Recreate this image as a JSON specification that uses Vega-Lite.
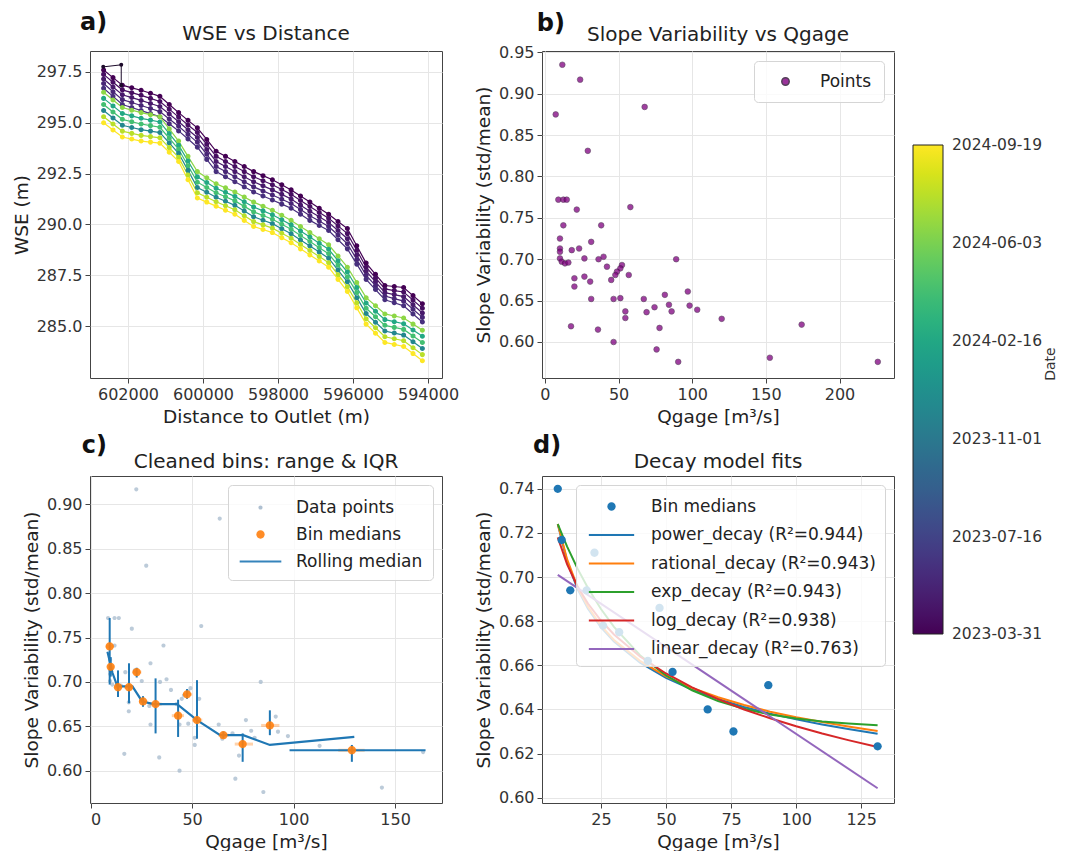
{
"$schema": "https://vega.github.io/schema/vega-lite/v6.json",
"background": "white",
"padding": {"left": 11, "top": 10, "right": 0, "bottom": 0},
"columns": 2,
"spacing": {"row": 98, "column": 100},
"bounds": "flush",
"datasets": {
"wse": [
{"d":602650,"w":297.6,"t":1680220800000},{"d":602400,"w":297.22,"t":1680220800000},{"d":602150,"w":296.85,"t":1680220800000},{"d":601900,"w":296.72,"t":1680220800000},{"d":601650,"w":296.6,"t":1680220800000},{"d":601400,"w":296.45,"t":1680220800000},{"d":601150,"w":296.3,"t":1680220800000},{"d":600900,"w":295.9,"t":1680220800000},{"d":600650,"w":295.5,"t":1680220800000},{"d":600400,"w":295.12,"t":1680220800000},{"d":600150,"w":294.75,"t":1680220800000},{"d":599900,"w":294.18,"t":1680220800000},{"d":599650,"w":293.6,"t":1680220800000},{"d":599400,"w":293.35,"t":1680220800000},{"d":599150,"w":293.1,"t":1680220800000},{"d":598900,"w":292.85,"t":1680220800000},{"d":598650,"w":292.6,"t":1680220800000},{"d":598400,"w":292.4,"t":1680220800000},{"d":598150,"w":292.2,"t":1680220800000},{"d":597900,"w":291.95,"t":1680220800000},{"d":597650,"w":291.7,"t":1680220800000},{"d":597400,"w":291.4,"t":1680220800000},{"d":597150,"w":291.1,"t":1680220800000},{"d":596900,"w":290.8,"t":1680220800000},{"d":596650,"w":290.5,"t":1680220800000},{"d":596400,"w":290.15,"t":1680220800000},{"d":596150,"w":289.8,"t":1680220800000},{"d":595900,"w":288.95,"t":1680220800000},{"d":595650,"w":288.1,"t":1680220800000},{"d":595400,"w":287.55,"t":1680220800000},{"d":595150,"w":287.0,"t":1680220800000},{"d":594900,"w":286.95,"t":1680220800000},{"d":594650,"w":286.9,"t":1680220800000},{"d":594400,"w":286.5,"t":1680220800000},{"d":594150,"w":286.1,"t":1680220800000},
{"d":602650,"w":297.38,"t":1681776000000},{"d":602400,"w":296.99,"t":1681776000000},{"d":602150,"w":296.62,"t":1681776000000},{"d":601900,"w":296.48,"t":1681776000000},{"d":601650,"w":296.35,"t":1681776000000},{"d":601400,"w":296.2,"t":1681776000000},{"d":601150,"w":296.05,"t":1681776000000},{"d":600900,"w":295.67,"t":1681776000000},{"d":600650,"w":295.28,"t":1681776000000},{"d":600400,"w":294.89,"t":1681776000000},{"d":600150,"w":294.52,"t":1681776000000},{"d":599900,"w":293.94,"t":1681776000000},{"d":599650,"w":293.35,"t":1681776000000},{"d":599400,"w":293.1,"t":1681776000000},{"d":599150,"w":292.85,"t":1681776000000},{"d":598900,"w":292.6,"t":1681776000000},{"d":598650,"w":292.35,"t":1681776000000},{"d":598400,"w":292.15,"t":1681776000000},{"d":598150,"w":291.95,"t":1681776000000},{"d":597900,"w":291.72,"t":1681776000000},{"d":597650,"w":291.48,"t":1681776000000},{"d":597400,"w":291.18,"t":1681776000000},{"d":597150,"w":290.88,"t":1681776000000},{"d":596900,"w":290.59,"t":1681776000000},{"d":596650,"w":290.3,"t":1681776000000},{"d":596400,"w":289.93,"t":1681776000000},{"d":596150,"w":289.55,"t":1681776000000},{"d":595900,"w":288.73,"t":1681776000000},{"d":595650,"w":287.9,"t":1681776000000},{"d":595400,"w":287.37,"t":1681776000000},{"d":595150,"w":286.83,"t":1681776000000},{"d":594900,"w":286.75,"t":1681776000000},{"d":594650,"w":286.68,"t":1681776000000},{"d":594400,"w":286.28,"t":1681776000000},{"d":594150,"w":285.88,"t":1681776000000},
{"d":602650,"w":297.15,"t":1683244800000},{"d":602400,"w":296.76,"t":1683244800000},{"d":602150,"w":296.38,"t":1683244800000},{"d":601900,"w":296.24,"t":1683244800000},{"d":601650,"w":296.1,"t":1683244800000},{"d":601400,"w":295.95,"t":1683244800000},{"d":601150,"w":295.8,"t":1683244800000},{"d":600900,"w":295.43,"t":1683244800000},{"d":600650,"w":295.05,"t":1683244800000},{"d":600400,"w":294.66,"t":1683244800000},{"d":600150,"w":294.28,"t":1683244800000},{"d":599900,"w":293.69,"t":1683244800000},{"d":599650,"w":293.1,"t":1683244800000},{"d":599400,"w":292.85,"t":1683244800000},{"d":599150,"w":292.6,"t":1683244800000},{"d":598900,"w":292.35,"t":1683244800000},{"d":598650,"w":292.1,"t":1683244800000},{"d":598400,"w":291.9,"t":1683244800000},{"d":598150,"w":291.7,"t":1683244800000},{"d":597900,"w":291.48,"t":1683244800000},{"d":597650,"w":291.25,"t":1683244800000},{"d":597400,"w":290.95,"t":1683244800000},{"d":597150,"w":290.65,"t":1683244800000},{"d":596900,"w":290.38,"t":1683244800000},{"d":596650,"w":290.1,"t":1683244800000},{"d":596400,"w":289.7,"t":1683244800000},{"d":596150,"w":289.3,"t":1683244800000},{"d":595900,"w":288.5,"t":1683244800000},{"d":595650,"w":287.7,"t":1683244800000},{"d":595400,"w":287.18,"t":1683244800000},{"d":595150,"w":286.65,"t":1683244800000},{"d":594900,"w":286.55,"t":1683244800000},{"d":594650,"w":286.45,"t":1683244800000},{"d":594400,"w":286.05,"t":1683244800000},{"d":594150,"w":285.65,"t":1683244800000},
{"d":602650,"w":296.93,"t":1684972800000},{"d":602400,"w":296.53,"t":1684972800000},{"d":602150,"w":296.14,"t":1684972800000},{"d":601900,"w":296.0,"t":1684972800000},{"d":601650,"w":295.85,"t":1684972800000},{"d":601400,"w":295.7,"t":1684972800000},{"d":601150,"w":295.55,"t":1684972800000},{"d":600900,"w":295.19,"t":1684972800000},{"d":600650,"w":294.83,"t":1684972800000},{"d":600400,"w":294.43,"t":1684972800000},{"d":600150,"w":294.04,"t":1684972800000},{"d":599900,"w":293.45,"t":1684972800000},{"d":599650,"w":292.85,"t":1684972800000},{"d":599400,"w":292.6,"t":1684972800000},{"d":599150,"w":292.35,"t":1684972800000},{"d":598900,"w":292.1,"t":1684972800000},{"d":598650,"w":291.85,"t":1684972800000},{"d":598400,"w":291.65,"t":1684972800000},{"d":598150,"w":291.45,"t":1684972800000},{"d":597900,"w":291.24,"t":1684972800000},{"d":597650,"w":291.03,"t":1684972800000},{"d":597400,"w":290.73,"t":1684972800000},{"d":597150,"w":290.43,"t":1684972800000},{"d":596900,"w":290.17,"t":1684972800000},{"d":596650,"w":289.9,"t":1684972800000},{"d":596400,"w":289.48,"t":1684972800000},{"d":596150,"w":289.05,"t":1684972800000},{"d":595900,"w":288.28,"t":1684972800000},{"d":595650,"w":287.5,"t":1684972800000},{"d":595400,"w":286.99,"t":1684972800000},{"d":595150,"w":286.48,"t":1684972800000},{"d":594900,"w":286.35,"t":1684972800000},{"d":594650,"w":286.23,"t":1684972800000},{"d":594400,"w":285.83,"t":1684972800000},{"d":594150,"w":285.43,"t":1684972800000},
{"d":602650,"w":296.7,"t":1686355200000},{"d":602400,"w":296.3,"t":1686355200000},{"d":602150,"w":295.9,"t":1686355200000},{"d":601900,"w":295.75,"t":1686355200000},{"d":601650,"w":295.6,"t":1686355200000},{"d":601400,"w":295.45,"t":1686355200000},{"d":601150,"w":295.3,"t":1686355200000},{"d":600900,"w":294.95,"t":1686355200000},{"d":600650,"w":294.6,"t":1686355200000},{"d":600400,"w":294.2,"t":1686355200000},{"d":600150,"w":293.8,"t":1686355200000},{"d":599900,"w":293.2,"t":1686355200000},{"d":599650,"w":292.6,"t":1686355200000},{"d":599400,"w":292.35,"t":1686355200000},{"d":599150,"w":292.1,"t":1686355200000},{"d":598900,"w":291.85,"t":1686355200000},{"d":598650,"w":291.6,"t":1686355200000},{"d":598400,"w":291.4,"t":1686355200000},{"d":598150,"w":291.2,"t":1686355200000},{"d":597900,"w":291.0,"t":1686355200000},{"d":597650,"w":290.8,"t":1686355200000},{"d":597400,"w":290.5,"t":1686355200000},{"d":597150,"w":290.2,"t":1686355200000},{"d":596900,"w":289.95,"t":1686355200000},{"d":596650,"w":289.7,"t":1686355200000},{"d":596400,"w":289.25,"t":1686355200000},{"d":596150,"w":288.8,"t":1686355200000},{"d":595900,"w":288.05,"t":1686355200000},{"d":595650,"w":287.3,"t":1686355200000},{"d":595400,"w":286.8,"t":1686355200000},{"d":595150,"w":286.3,"t":1686355200000},{"d":594900,"w":286.15,"t":1686355200000},{"d":594650,"w":286.0,"t":1686355200000},{"d":594400,"w":285.6,"t":1686355200000},{"d":594150,"w":285.2,"t":1686355200000},
{"d":602650,"w":296.5,"t":1718841600000},{"d":602400,"w":296.12,"t":1718841600000},{"d":602150,"w":295.75,"t":1718841600000},{"d":601900,"w":295.62,"t":1718841600000},{"d":601650,"w":295.5,"t":1718841600000},{"d":601400,"w":295.4,"t":1718841600000},{"d":601150,"w":295.3,"t":1718841600000},{"d":600900,"w":294.7,"t":1718841600000},{"d":600650,"w":294.1,"t":1718841600000},{"d":600400,"w":293.35,"t":1718841600000},{"d":600150,"w":292.6,"t":1718841600000},{"d":599900,"w":292.3,"t":1718841600000},{"d":599650,"w":292.0,"t":1718841600000},{"d":599400,"w":291.8,"t":1718841600000},{"d":599150,"w":291.6,"t":1718841600000},{"d":598900,"w":291.35,"t":1718841600000},{"d":598650,"w":291.1,"t":1718841600000},{"d":598400,"w":290.9,"t":1718841600000},{"d":598150,"w":290.7,"t":1718841600000},{"d":597900,"w":290.45,"t":1718841600000},{"d":597650,"w":290.2,"t":1718841600000},{"d":597400,"w":289.9,"t":1718841600000},{"d":597150,"w":289.6,"t":1718841600000},{"d":596900,"w":289.3,"t":1718841600000},{"d":596650,"w":289.0,"t":1718841600000},{"d":596400,"w":288.45,"t":1718841600000},{"d":596150,"w":287.9,"t":1718841600000},{"d":595900,"w":287.15,"t":1718841600000},{"d":595650,"w":286.4,"t":1718841600000},{"d":595400,"w":286.0,"t":1718841600000},{"d":595150,"w":285.6,"t":1718841600000},{"d":594900,"w":285.5,"t":1718841600000},{"d":594650,"w":285.4,"t":1718841600000},{"d":594400,"w":285.1,"t":1718841600000},{"d":594150,"w":284.8,"t":1718841600000},
{"d":602650,"w":296.2,"t":1708041600000},{"d":602400,"w":295.83,"t":1708041600000},{"d":602150,"w":295.46,"t":1708041600000},{"d":601900,"w":295.34,"t":1708041600000},{"d":601650,"w":295.22,"t":1708041600000},{"d":601400,"w":295.13,"t":1708041600000},{"d":601150,"w":295.04,"t":1708041600000},{"d":600900,"w":294.47,"t":1708041600000},{"d":600650,"w":293.9,"t":1708041600000},{"d":600400,"w":293.12,"t":1708041600000},{"d":600150,"w":292.34,"t":1708041600000},{"d":599900,"w":292.06,"t":1708041600000},{"d":599650,"w":291.78,"t":1708041600000},{"d":599400,"w":291.58,"t":1708041600000},{"d":599150,"w":291.38,"t":1708041600000},{"d":598900,"w":291.12,"t":1708041600000},{"d":598650,"w":290.86,"t":1708041600000},{"d":598400,"w":290.67,"t":1708041600000},{"d":598150,"w":290.48,"t":1708041600000},{"d":597900,"w":290.23,"t":1708041600000},{"d":597650,"w":289.98,"t":1708041600000},{"d":597400,"w":289.68,"t":1708041600000},{"d":597150,"w":289.38,"t":1708041600000},{"d":596900,"w":289.08,"t":1708041600000},{"d":596650,"w":288.78,"t":1708041600000},{"d":596400,"w":288.22,"t":1708041600000},{"d":596150,"w":287.66,"t":1708041600000},{"d":595900,"w":286.9,"t":1708041600000},{"d":595650,"w":286.14,"t":1708041600000},{"d":595400,"w":285.73,"t":1708041600000},{"d":595150,"w":285.32,"t":1708041600000},{"d":594900,"w":285.22,"t":1708041600000},{"d":594650,"w":285.12,"t":1708041600000},{"d":594400,"w":284.81,"t":1708041600000},{"d":594150,"w":284.5,"t":1708041600000},
{"d":602650,"w":295.9,"t":1712707200000},{"d":602400,"w":295.53,"t":1712707200000},{"d":602150,"w":295.17,"t":1712707200000},{"d":601900,"w":295.05,"t":1712707200000},{"d":601650,"w":294.94,"t":1712707200000},{"d":601400,"w":294.86,"t":1712707200000},{"d":601150,"w":294.78,"t":1712707200000},{"d":600900,"w":294.24,"t":1712707200000},{"d":600650,"w":293.7,"t":1712707200000},{"d":600400,"w":292.89,"t":1712707200000},{"d":600150,"w":292.08,"t":1712707200000},{"d":599900,"w":291.82,"t":1712707200000},{"d":599650,"w":291.56,"t":1712707200000},{"d":599400,"w":291.36,"t":1712707200000},{"d":599150,"w":291.16,"t":1712707200000},{"d":598900,"w":290.89,"t":1712707200000},{"d":598650,"w":290.62,"t":1712707200000},{"d":598400,"w":290.44,"t":1712707200000},{"d":598150,"w":290.26,"t":1712707200000},{"d":597900,"w":290.01,"t":1712707200000},{"d":597650,"w":289.76,"t":1712707200000},{"d":597400,"w":289.46,"t":1712707200000},{"d":597150,"w":289.16,"t":1712707200000},{"d":596900,"w":288.86,"t":1712707200000},{"d":596650,"w":288.56,"t":1712707200000},{"d":596400,"w":287.99,"t":1712707200000},{"d":596150,"w":287.42,"t":1712707200000},{"d":595900,"w":286.65,"t":1712707200000},{"d":595650,"w":285.88,"t":1712707200000},{"d":595400,"w":285.46,"t":1712707200000},{"d":595150,"w":285.04,"t":1712707200000},{"d":594900,"w":284.94,"t":1712707200000},{"d":594650,"w":284.84,"t":1712707200000},{"d":594400,"w":284.52,"t":1712707200000},{"d":594150,"w":284.2,"t":1712707200000},
{"d":602650,"w":295.6,"t":1701734400000},{"d":602400,"w":295.24,"t":1701734400000},{"d":602150,"w":294.88,"t":1701734400000},{"d":601900,"w":294.77,"t":1701734400000},{"d":601650,"w":294.66,"t":1701734400000},{"d":601400,"w":294.59,"t":1701734400000},{"d":601150,"w":294.52,"t":1701734400000},{"d":600900,"w":294.01,"t":1701734400000},{"d":600650,"w":293.5,"t":1701734400000},{"d":600400,"w":292.66,"t":1701734400000},{"d":600150,"w":291.82,"t":1701734400000},{"d":599900,"w":291.58,"t":1701734400000},{"d":599650,"w":291.34,"t":1701734400000},{"d":599400,"w":291.14,"t":1701734400000},{"d":599150,"w":290.94,"t":1701734400000},{"d":598900,"w":290.66,"t":1701734400000},{"d":598650,"w":290.38,"t":1701734400000},{"d":598400,"w":290.21,"t":1701734400000},{"d":598150,"w":290.04,"t":1701734400000},{"d":597900,"w":289.79,"t":1701734400000},{"d":597650,"w":289.54,"t":1701734400000},{"d":597400,"w":289.24,"t":1701734400000},{"d":597150,"w":288.94,"t":1701734400000},{"d":596900,"w":288.64,"t":1701734400000},{"d":596650,"w":288.34,"t":1701734400000},{"d":596400,"w":287.76,"t":1701734400000},{"d":596150,"w":287.18,"t":1701734400000},{"d":595900,"w":286.4,"t":1701734400000},{"d":595650,"w":285.62,"t":1701734400000},{"d":595400,"w":285.19,"t":1701734400000},{"d":595150,"w":284.76,"t":1701734400000},{"d":594900,"w":284.66,"t":1701734400000},{"d":594650,"w":284.56,"t":1701734400000},{"d":594400,"w":284.23,"t":1701734400000},{"d":594150,"w":283.9,"t":1701734400000},
{"d":602650,"w":295.3,"t":1721865600000},{"d":602400,"w":294.94,"t":1721865600000},{"d":602150,"w":294.59,"t":1721865600000},{"d":601900,"w":294.48,"t":1721865600000},{"d":601650,"w":294.38,"t":1721865600000},{"d":601400,"w":294.32,"t":1721865600000},{"d":601150,"w":294.26,"t":1721865600000},{"d":600900,"w":293.78,"t":1721865600000},{"d":600650,"w":293.3,"t":1721865600000},{"d":600400,"w":292.43,"t":1721865600000},{"d":600150,"w":291.56,"t":1721865600000},{"d":599900,"w":291.34,"t":1721865600000},{"d":599650,"w":291.12,"t":1721865600000},{"d":599400,"w":290.92,"t":1721865600000},{"d":599150,"w":290.72,"t":1721865600000},{"d":598900,"w":290.43,"t":1721865600000},{"d":598650,"w":290.14,"t":1721865600000},{"d":598400,"w":289.98,"t":1721865600000},{"d":598150,"w":289.82,"t":1721865600000},{"d":597900,"w":289.57,"t":1721865600000},{"d":597650,"w":289.32,"t":1721865600000},{"d":597400,"w":289.02,"t":1721865600000},{"d":597150,"w":288.72,"t":1721865600000},{"d":596900,"w":288.42,"t":1721865600000},{"d":596650,"w":288.12,"t":1721865600000},{"d":596400,"w":287.53,"t":1721865600000},{"d":596150,"w":286.94,"t":1721865600000},{"d":595900,"w":286.15,"t":1721865600000},{"d":595650,"w":285.36,"t":1721865600000},{"d":595400,"w":284.92,"t":1721865600000},{"d":595150,"w":284.48,"t":1721865600000},{"d":594900,"w":284.38,"t":1721865600000},{"d":594650,"w":284.28,"t":1721865600000},{"d":594400,"w":283.94,"t":1721865600000},{"d":594150,"w":283.6,"t":1721865600000},
{"d":602650,"w":295.0,"t":1726704000000},{"d":602400,"w":294.65,"t":1726704000000},{"d":602150,"w":294.3,"t":1726704000000},{"d":601900,"w":294.2,"t":1726704000000},{"d":601650,"w":294.1,"t":1726704000000},{"d":601400,"w":294.05,"t":1726704000000},{"d":601150,"w":294.0,"t":1726704000000},{"d":600900,"w":293.55,"t":1726704000000},{"d":600650,"w":293.1,"t":1726704000000},{"d":600400,"w":292.2,"t":1726704000000},{"d":600150,"w":291.3,"t":1726704000000},{"d":599900,"w":291.1,"t":1726704000000},{"d":599650,"w":290.9,"t":1726704000000},{"d":599400,"w":290.7,"t":1726704000000},{"d":599150,"w":290.5,"t":1726704000000},{"d":598900,"w":290.2,"t":1726704000000},{"d":598650,"w":289.9,"t":1726704000000},{"d":598400,"w":289.75,"t":1726704000000},{"d":598150,"w":289.6,"t":1726704000000},{"d":597900,"w":289.35,"t":1726704000000},{"d":597650,"w":289.1,"t":1726704000000},{"d":597400,"w":288.8,"t":1726704000000},{"d":597150,"w":288.5,"t":1726704000000},{"d":596900,"w":288.2,"t":1726704000000},{"d":596650,"w":287.9,"t":1726704000000},{"d":596400,"w":287.3,"t":1726704000000},{"d":596150,"w":286.7,"t":1726704000000},{"d":595900,"w":285.9,"t":1726704000000},{"d":595650,"w":285.1,"t":1726704000000},{"d":595400,"w":284.65,"t":1726704000000},{"d":595150,"w":284.2,"t":1726704000000},{"d":594900,"w":284.1,"t":1726704000000},{"d":594650,"w":284.0,"t":1726704000000},{"d":594400,"w":283.65,"t":1726704000000},{"d":594150,"w":283.3,"t":1726704000000}
],
"bpts": [
{"q":11.8,"v":0.935,"s":"Points"},{"q":23.9,"v":0.917,"s":"Points"},{"q":7.3,"v":0.875,"s":"Points"},{"q":67.7,"v":0.884,"s":"Points"},{"q":29.1,"v":0.831,"s":"Points"},{"q":9.1,"v":0.772,"s":"Points"},{"q":12.5,"v":0.772,"s":"Points"},{"q":14.8,"v":0.772,"s":"Points"},{"q":21.6,"v":0.760,"s":"Points"},{"q":58.0,"v":0.763,"s":"Points"},{"q":12.5,"v":0.741,"s":"Points"},{"q":38.2,"v":0.741,"s":"Points"},{"q":10.2,"v":0.725,"s":"Points"},{"q":31.4,"v":0.721,"s":"Points"},{"q":10.2,"v":0.713,"s":"Points"},{"q":10.2,"v":0.709,"s":"Points"},{"q":18.2,"v":0.711,"s":"Points"},{"q":23.2,"v":0.713,"s":"Points"},{"q":10.2,"v":0.701,"s":"Points"},{"q":11.4,"v":0.697,"s":"Points"},{"q":13.6,"v":0.695,"s":"Points"},{"q":15.9,"v":0.696,"s":"Points"},{"q":26.8,"v":0.701,"s":"Points"},{"q":36.4,"v":0.700,"s":"Points"},{"q":39.8,"v":0.703,"s":"Points"},{"q":42.1,"v":0.691,"s":"Points"},{"q":52.3,"v":0.693,"s":"Points"},{"q":51.2,"v":0.689,"s":"Points"},{"q":48.9,"v":0.685,"s":"Points"},{"q":47.8,"v":0.681,"s":"Points"},{"q":56.9,"v":0.681,"s":"Points"},{"q":45.0,"v":0.675,"s":"Points"},{"q":20.0,"v":0.677,"s":"Points"},{"q":20.0,"v":0.667,"s":"Points"},{"q":26.8,"v":0.679,"s":"Points"},{"q":30.7,"v":0.673,"s":"Points"},{"q":31.4,"v":0.652,"s":"Points"},{"q":46.6,"v":0.652,"s":"Points"},{"q":51.2,"v":0.653,"s":"Points"},{"q":54.6,"v":0.637,"s":"Points"},{"q":54.6,"v":0.629,"s":"Points"},{"q":17.7,"v":0.619,"s":"Points"},{"q":36.0,"v":0.615,"s":"Points"},{"q":46.6,"v":0.600,"s":"Points"},{"q":67.1,"v":0.652,"s":"Points"},{"q":69.0,"v":0.636,"s":"Points"},{"q":74.4,"v":0.642,"s":"Points"},{"q":81.4,"v":0.657,"s":"Points"},{"q":84.2,"v":0.645,"s":"Points"},{"q":86.0,"v":0.637,"s":"Points"},{"q":77.8,"v":0.617,"s":"Points"},{"q":75.8,"v":0.591,"s":"Points"},{"q":89.1,"v":0.700,"s":"Points"},{"q":90.5,"v":0.576,"s":"Points"},{"q":97.0,"v":0.661,"s":"Points"},{"q":98.2,"v":0.644,"s":"Points"},{"q":103.4,"v":0.639,"s":"Points"},{"q":120.0,"v":0.628,"s":"Points"},{"q":152.7,"v":0.581,"s":"Points"},{"q":174.3,"v":0.621,"s":"Points"},{"q":226.0,"v":0.576,"s":"Points"}
],
"cpts": [
{"q":22.5,"v":0.917,"s":"Data points"},{"q":63.6,"v":0.884,"s":"Data points"},{"q":27.4,"v":0.831,"s":"Data points"},{"q":8.6,"v":0.772,"s":"Data points"},{"q":11.8,"v":0.772,"s":"Data points"},{"q":13.9,"v":0.772,"s":"Data points"},{"q":20.3,"v":0.760,"s":"Data points"},{"q":54.5,"v":0.763,"s":"Data points"},{"q":11.8,"v":0.741,"s":"Data points"},{"q":35.9,"v":0.741,"s":"Data points"},{"q":9.6,"v":0.725,"s":"Data points"},{"q":29.5,"v":0.721,"s":"Data points"},{"q":9.6,"v":0.713,"s":"Data points"},{"q":9.6,"v":0.709,"s":"Data points"},{"q":17.1,"v":0.711,"s":"Data points"},{"q":21.8,"v":0.713,"s":"Data points"},{"q":9.6,"v":0.701,"s":"Data points"},{"q":10.7,"v":0.697,"s":"Data points"},{"q":12.8,"v":0.695,"s":"Data points"},{"q":14.9,"v":0.696,"s":"Data points"},{"q":25.2,"v":0.701,"s":"Data points"},{"q":34.2,"v":0.700,"s":"Data points"},{"q":37.4,"v":0.703,"s":"Data points"},{"q":39.6,"v":0.691,"s":"Data points"},{"q":49.2,"v":0.693,"s":"Data points"},{"q":48.1,"v":0.689,"s":"Data points"},{"q":46.0,"v":0.685,"s":"Data points"},{"q":44.9,"v":0.681,"s":"Data points"},{"q":53.5,"v":0.681,"s":"Data points"},{"q":42.3,"v":0.675,"s":"Data points"},{"q":18.8,"v":0.677,"s":"Data points"},{"q":18.8,"v":0.667,"s":"Data points"},{"q":25.2,"v":0.679,"s":"Data points"},{"q":28.9,"v":0.673,"s":"Data points"},{"q":29.5,"v":0.652,"s":"Data points"},{"q":43.8,"v":0.652,"s":"Data points"},{"q":48.1,"v":0.653,"s":"Data points"},{"q":51.3,"v":0.637,"s":"Data points"},{"q":51.3,"v":0.629,"s":"Data points"},{"q":16.6,"v":0.619,"s":"Data points"},{"q":33.8,"v":0.615,"s":"Data points"},{"q":43.8,"v":0.600,"s":"Data points"},{"q":63.1,"v":0.652,"s":"Data points"},{"q":64.9,"v":0.636,"s":"Data points"},{"q":69.9,"v":0.642,"s":"Data points"},{"q":76.5,"v":0.657,"s":"Data points"},{"q":79.1,"v":0.645,"s":"Data points"},{"q":80.8,"v":0.637,"s":"Data points"},{"q":73.1,"v":0.617,"s":"Data points"},{"q":71.3,"v":0.591,"s":"Data points"},{"q":83.8,"v":0.700,"s":"Data points"},{"q":85.1,"v":0.576,"s":"Data points"},{"q":91.2,"v":0.661,"s":"Data points"},{"q":92.3,"v":0.644,"s":"Data points"},{"q":97.2,"v":0.639,"s":"Data points"},{"q":112.8,"v":0.628,"s":"Data points"},{"q":143.5,"v":0.581,"s":"Data points"},{"q":163.8,"v":0.621,"s":"Data points"}
],
"cbins": [
{"q":9.4,"m":0.740,"lo":0.697,"hi":0.772,"xlo":7.5,"xhi":11.5,"s":"Bin medians"},
{"q":9.9,"m":0.717,"lo":0.706,"hi":0.728,"xlo":8.5,"xhi":11.5,"s":"Bin medians"},
{"q":13.5,"m":0.694,"lo":0.683,"hi":0.713,"xlo":11.5,"xhi":15.5,"s":"Bin medians"},
{"q":18.9,"m":0.694,"lo":0.676,"hi":0.721,"xlo":16.5,"xhi":21.0,"s":"Bin medians"},
{"q":22.7,"m":0.711,"lo":0.705,"hi":0.716,"xlo":20.5,"xhi":25.0,"s":"Bin medians"},
{"q":25.8,"m":0.678,"lo":0.672,"hi":0.684,"xlo":24.0,"xhi":28.0,"s":"Bin medians"},
{"q":32.0,"m":0.675,"lo":0.642,"hi":0.704,"xlo":29.0,"xhi":35.0,"s":"Bin medians"},
{"q":43.1,"m":0.662,"lo":0.638,"hi":0.680,"xlo":40.0,"xhi":46.0,"s":"Bin medians"},
{"q":47.5,"m":0.686,"lo":0.681,"hi":0.692,"xlo":45.5,"xhi":50.0,"s":"Bin medians"},
{"q":52.4,"m":0.657,"lo":0.636,"hi":0.702,"xlo":50.0,"xhi":55.0,"s":"Bin medians"},
{"q":65.4,"m":0.640,"lo":0.637,"hi":0.644,"xlo":63.0,"xhi":68.0,"s":"Bin medians"},
{"q":74.9,"m":0.630,"lo":0.610,"hi":0.642,"xlo":71.0,"xhi":80.0,"s":"Bin medians"},
{"q":88.3,"m":0.651,"lo":0.640,"hi":0.668,"xlo":84.0,"xhi":93.0,"s":"Bin medians"},
{"q":128.7,"m":0.623,"lo":0.610,"hi":0.629,"xlo":122.0,"xhi":135.0,"s":"Bin medians"}
],
"croll": [
{"q":8.3,"v":0.734},{"q":10.8,"v":0.710},{"q":13.2,"v":0.695},{"q":20.6,"v":0.695},{"q":25.4,"v":0.678},{"q":31.2,"v":0.675},{"q":42.6,"v":0.675},{"q":52.4,"v":0.657},{"q":63.8,"v":0.640},{"q":75.2,"v":0.640},{"q":88.3,"v":0.629},{"q":129.9,"v":0.638}
],
"dfit": [
{"q":8.4,"v":0.724,"s":"power_decay (R²=0.944)"},{"q":12,"v":0.707,"s":"power_decay (R²=0.944)"},{"q":16,"v":0.6946,"s":"power_decay (R²=0.944)"},{"q":20,"v":0.6857,"s":"power_decay (R²=0.944)"},{"q":25,"v":0.6772,"s":"power_decay (R²=0.944)"},{"q":30,"v":0.6708,"s":"power_decay (R²=0.944)"},{"q":40,"v":0.6612,"s":"power_decay (R²=0.944)"},{"q":50,"v":0.6543,"s":"power_decay (R²=0.944)"},{"q":60,"v":0.649,"s":"power_decay (R²=0.944)"},{"q":70,"v":0.6447,"s":"power_decay (R²=0.944)"},{"q":80,"v":0.6411,"s":"power_decay (R²=0.944)"},{"q":90,"v":0.6381,"s":"power_decay (R²=0.944)"},{"q":100,"v":0.6355,"s":"power_decay (R²=0.944)"},{"q":110,"v":0.6332,"s":"power_decay (R²=0.944)"},{"q":120,"v":0.6311,"s":"power_decay (R²=0.944)"},{"q":131.3,"v":0.629,"s":"power_decay (R²=0.944)"},
{"q":8.4,"v":0.724,"s":"rational_decay (R²=0.943)"},{"q":12,"v":0.708,"s":"rational_decay (R²=0.943)"},{"q":16,"v":0.6955,"s":"rational_decay (R²=0.943)"},{"q":20,"v":0.6865,"s":"rational_decay (R²=0.943)"},{"q":25,"v":0.678,"s":"rational_decay (R²=0.943)"},{"q":30,"v":0.6715,"s":"rational_decay (R²=0.943)"},{"q":40,"v":0.662,"s":"rational_decay (R²=0.943)"},{"q":50,"v":0.655,"s":"rational_decay (R²=0.943)"},{"q":60,"v":0.6497,"s":"rational_decay (R²=0.943)"},{"q":70,"v":0.6455,"s":"rational_decay (R²=0.943)"},{"q":80,"v":0.642,"s":"rational_decay (R²=0.943)"},{"q":90,"v":0.639,"s":"rational_decay (R²=0.943)"},{"q":100,"v":0.6365,"s":"rational_decay (R²=0.943)"},{"q":110,"v":0.6343,"s":"rational_decay (R²=0.943)"},{"q":120,"v":0.6323,"s":"rational_decay (R²=0.943)"},{"q":131.3,"v":0.6302,"s":"rational_decay (R²=0.943)"},
{"q":8.4,"v":0.724,"s":"exp_decay (R²=0.943)"},{"q":12,"v":0.7138,"s":"exp_decay (R²=0.943)"},{"q":16,"v":0.7038,"s":"exp_decay (R²=0.943)"},{"q":20,"v":0.695,"s":"exp_decay (R²=0.943)"},{"q":25,"v":0.6855,"s":"exp_decay (R²=0.943)"},{"q":30,"v":0.6774,"s":"exp_decay (R²=0.943)"},{"q":40,"v":0.6646,"s":"exp_decay (R²=0.943)"},{"q":50,"v":0.6554,"s":"exp_decay (R²=0.943)"},{"q":60,"v":0.6487,"s":"exp_decay (R²=0.943)"},{"q":70,"v":0.6438,"s":"exp_decay (R²=0.943)"},{"q":80,"v":0.6403,"s":"exp_decay (R²=0.943)"},{"q":90,"v":0.6377,"s":"exp_decay (R²=0.943)"},{"q":100,"v":0.6359,"s":"exp_decay (R²=0.943)"},{"q":110,"v":0.6345,"s":"exp_decay (R²=0.943)"},{"q":120,"v":0.6336,"s":"exp_decay (R²=0.943)"},{"q":131.3,"v":0.6328,"s":"exp_decay (R²=0.943)"},
{"q":8.4,"v":0.718,"s":"log_decay (R²=0.938)"},{"q":12,"v":0.7057,"s":"log_decay (R²=0.938)"},{"q":16,"v":0.6957,"s":"log_decay (R²=0.938)"},{"q":20,"v":0.688,"s":"log_decay (R²=0.938)"},{"q":25,"v":0.6803,"s":"log_decay (R²=0.938)"},{"q":30,"v":0.674,"s":"log_decay (R²=0.938)"},{"q":40,"v":0.664,"s":"log_decay (R²=0.938)"},{"q":50,"v":0.6563,"s":"log_decay (R²=0.938)"},{"q":60,"v":0.650,"s":"log_decay (R²=0.938)"},{"q":70,"v":0.6447,"s":"log_decay (R²=0.938)"},{"q":80,"v":0.640,"s":"log_decay (R²=0.938)"},{"q":90,"v":0.636,"s":"log_decay (R²=0.938)"},{"q":100,"v":0.6324,"s":"log_decay (R²=0.938)"},{"q":110,"v":0.6291,"s":"log_decay (R²=0.938)"},{"q":120,"v":0.6261,"s":"log_decay (R²=0.938)"},{"q":131.3,"v":0.623,"s":"log_decay (R²=0.938)"},
{"q":8.4,"v":0.701,"s":"linear_decay (R²=0.763)"},{"q":131.3,"v":0.6043,"s":"linear_decay (R²=0.763)"}
],
"dmed": [
{"q":8.4,"v":0.740,"s":"Bin medians"},{"q":9.9,"v":0.7168,"s":"Bin medians"},{"q":13.2,"v":0.694,"s":"Bin medians"},{"q":19.5,"v":0.694,"s":"Bin medians"},{"q":22.5,"v":0.711,"s":"Bin medians"},{"q":25.8,"v":0.678,"s":"Bin medians"},{"q":32.0,"v":0.675,"s":"Bin medians"},{"q":43.0,"v":0.662,"s":"Bin medians"},{"q":47.5,"v":0.686,"s":"Bin medians"},{"q":52.5,"v":0.657,"s":"Bin medians"},{"q":66.0,"v":0.640,"s":"Bin medians"},{"q":75.9,"v":0.630,"s":"Bin medians"},{"q":89.3,"v":0.651,"s":"Bin medians"},{"q":131.3,"v":0.6233,"s":"Bin medians"}
]
},
"concat": [
{
"width": 352, "height": 327,
"layer": [
{"data": {"name": "wse"},
 "mark": {"type": "line", "strokeWidth": 1.2, "point": {"filled": false, "size": 6, "strokeWidth": 2.6}},
 "encoding": {
  "x": {"field": "d", "type": "quantitative", "title": "Distance to Outlet (m)", "scale": {"domain": [593627, 603013], "reverse": true, "nice": false, "zero": false}, "axis": {"values": [602000, 600000, 598000, 596000, 594000], "format": "d"}},
  "y": {"field": "w", "type": "quantitative", "title": "WSE (m)", "scale": {"domain": [282.45, 298.53], "nice": false, "zero": false}, "axis": {"values": [285, 287.5, 290, 292.5, 295, 297.5], "format": ".1f"}},
  "detail": {"field": "t", "type": "nominal"},
  "color": {"field": "t", "type": "quantitative",
   "scale": {"scheme": "viridis", "domain": [1680220800000, 1726704000000], "nice": false, "zero": false},
   "legend": {"type": "gradient", "orient": "none", "legendX": 823, "legendY": 94, "direction": "vertical", "gradientLength": 489, "gradientThickness": 30, "gradientStrokeColor": "#222", "gradientStrokeWidth": 1,
    "values": [1680220800000, 1689465600000, 1698796800000, 1708041600000, 1717372800000, 1726704000000],
    "labelExpr": "utcFormat(datum.value, '%Y-%m-%d')", "labelFontSize": 15.5, "labelOffset": 9, "labelOverlap": false, "labelColor": "#333",
    "title": "Date", "titleOrient": "right", "titleFontSize": 14, "titleFontWeight": "normal", "titleAnchor": "middle", "titlePadding": 2, "titleColor": "#333", "padding": 0,
    "encode": {"labels": {"update": {"baseline": {"value": "middle"}}}, "title": {"update": {"angle": {"value": 270}, "baseline": {"value": "top"}, "dx": {"value": 26}}}}}}
 }},
{"data": {"values": [{"d": 602660, "w": 297.75, "i": 1}, {"d": 602180, "w": 297.85, "i": 2}, {"d": 602180, "w": 296.85, "i": 3}]},
 "mark": {"type": "line", "color": "#1c0a2a", "strokeWidth": 1, "point": {"filled": true, "size": 16, "color": "#1c0a2a"}},
 "encoding": {"x": {"field": "d", "type": "quantitative", "title": "Distance to Outlet (m)"}, "y": {"field": "w", "type": "quantitative", "title": "WSE (m)"}, "order": {"field": "i"}}},
{"data": {"values": [{}]},
 "mark": {"type": "text", "text": "a)", "fontSize": 24, "fontWeight": "bold", "align": "left", "baseline": "alphabetic", "color": "#111"},
 "encoding": {"x": {"datum": 603280, "type": "quantitative", "title": "Distance to Outlet (m)"}, "y": {"datum": 299.56, "type": "quantitative", "title": "WSE (m)"}}},
{"data": {"values": [{}]},
 "mark": {"type": "text", "text": "WSE vs Distance", "fontSize": 20, "align": "center", "baseline": "middle", "color": "#222"},
 "encoding": {"x": {"datum": 598320, "type": "quantitative", "title": "Distance to Outlet (m)"}, "y": {"datum": 299.37, "type": "quantitative", "title": "WSE (m)"}}}
]
},
{
"width": 352, "height": 327,
"layer": [
{"data": {"name": "bpts"},
 "mark": {"type": "point", "filled": true, "size": 32, "opacity": 0.75, "stroke": "#2a1030", "strokeWidth": 0.6},
 "encoding": {
  "x": {"field": "q", "type": "quantitative", "title": "Qgage [m³/s]", "scale": {"domain": [-2, 237], "nice": false, "zero": false}, "axis": {"values": [0, 50, 100, 150, 200]}},
  "y": {"field": "v", "type": "quantitative", "title": "Slope Variability (std/mean)", "scale": {"domain": [0.5565, 0.9516], "nice": false, "zero": false}, "axis": {"values": [0.6, 0.65, 0.7, 0.75, 0.8, 0.85, 0.9, 0.95], "format": ".2f"}},
  "color": {"field": "s", "type": "nominal", "scale": {"domain": ["Points"], "range": ["#800080"]},
   "legend": {"orient": "top-right", "offset": 10, "title": null, "fillColor": "rgba(255,255,255,0.8)", "strokeColor": "#d5d5d5", "cornerRadius": 4, "padding": 12, "labelFontSize": 17, "symbolSize": 55, "symbolOffset": 11, "labelOffset": 26, "symbolOpacity": 0.8, "zindex": 1}}
 }},
{"data": {"values": [{}]},
 "mark": {"type": "text", "text": "b)", "fontSize": 24, "fontWeight": "bold", "align": "left", "baseline": "alphabetic", "color": "#111"},
 "encoding": {"x": {"datum": -5.6, "type": "quantitative", "title": "Qgage [m³/s]"}, "y": {"datum": 0.9758, "type": "quantitative", "title": "Slope Variability (std/mean)"}}},
{"data": {"values": [{}]},
 "mark": {"type": "text", "text": "Slope Variability vs Qgage", "fontSize": 20, "align": "center", "baseline": "middle", "color": "#222"},
 "encoding": {"x": {"datum": 117.5, "type": "quantitative", "title": "Qgage [m³/s]"}, "y": {"datum": 0.9715, "type": "quantitative", "title": "Slope Variability (std/mean)"}}}
]
},
{
"width": 352, "height": 327,
"layer": [
{"data": {"name": "cpts"},
 "mark": {"type": "point", "filled": true, "size": 600, "opacity": 0.75},
 "encoding": {
  "x": {"field": "q", "type": "quantitative", "title": "Qgage [m³/s]", "scale": {"domain": [-0.3, 173.1], "nice": false, "zero": false}, "axis": {"values": [0, 50, 100, 150]}},
  "y": {"field": "v", "type": "quantitative", "title": "Slope Variability (std/mean)", "scale": {"domain": [0.5636, 0.932], "nice": false, "zero": false}, "axis": {"values": [0.6, 0.65, 0.7, 0.75, 0.8, 0.85, 0.9], "format": ".2f"}},
  "color": {"field": "s", "type": "nominal", "scale": {"domain": ["Data points", "Bin medians", "Rolling median"], "range": ["#a6b9cc", "#ff7f0e", "#1f77b4"]},
   "legend": {"orient": "top-right", "offset": 9, "title": null, "fillColor": "rgba(255,255,255,0.8)", "strokeColor": "#d5d5d5", "cornerRadius": 4, "padding": 10, "labelFontSize": 17, "labelLimit": 300, "symbolSize": 600, "symbolOffset": 10, "labelOffset": 23, "rowPadding": 6, "symbolStrokeWidth": 0, "symbolOpacity": 1, "zindex": 1}},
  "shape": {"field": "s", "type": "nominal", "scale": {"domain": ["Data points", "Bin medians", "Rolling median"], "range": ["M-0.17,0a0.17,0.17 0 1,0 0.34,0a0.17,0.17 0 1,0 -0.34,0", "M-0.34,0a0.34,0.34 0 1,0 0.68,0a0.34,0.34 0 1,0 -0.68,0", "M-1.7,-0.08H1.7V0.08H-1.7Z"]},
   "legend": {"orient": "top-right", "offset": 9, "title": null, "fillColor": "rgba(255,255,255,0.8)", "strokeColor": "#d5d5d5", "cornerRadius": 4, "padding": 10, "labelFontSize": 17, "labelLimit": 300, "symbolSize": 600, "symbolOffset": 10, "labelOffset": 23, "rowPadding": 6, "symbolStrokeWidth": 0, "symbolOpacity": 1, "zindex": 1}}
 }},
{"data": {"name": "cbins"},
 "mark": {"type": "rule", "color": "#ff7f0e", "strokeWidth": 3, "opacity": 0.35},
 "encoding": {"x": {"field": "xlo", "type": "quantitative", "title": "Qgage [m³/s]"}, "x2": {"field": "xhi"}, "y": {"field": "m", "type": "quantitative", "title": "Slope Variability (std/mean)"}}},
{"data": {"name": "cbins"},
 "mark": {"type": "rule", "color": "#1f77b4", "strokeWidth": 2},
 "encoding": {"x": {"field": "q", "type": "quantitative", "title": "Qgage [m³/s]"}, "y": {"field": "lo", "type": "quantitative", "title": "Slope Variability (std/mean)"}, "y2": {"field": "hi"}}},
{"data": {"values": [{"a": 98, "b": 165, "m": 0.623}]},
 "mark": {"type": "rule", "color": "#1f77b4", "strokeWidth": 2},
 "encoding": {"x": {"field": "a", "type": "quantitative", "title": "Qgage [m³/s]"}, "x2": {"field": "b"}, "y": {"field": "m", "type": "quantitative", "title": "Slope Variability (std/mean)"}}},
{"data": {"name": "croll"},
 "mark": {"type": "line", "color": "#1f77b4", "strokeWidth": 2.2},
 "encoding": {"x": {"field": "q", "type": "quantitative", "title": "Qgage [m³/s]"}, "y": {"field": "v", "type": "quantitative", "title": "Slope Variability (std/mean)"}}},
{"data": {"name": "cbins"},
 "mark": {"type": "point", "filled": true, "size": 600, "opacity": 0.9},
 "encoding": {"x": {"field": "q", "type": "quantitative", "title": "Qgage [m³/s]"}, "y": {"field": "m", "type": "quantitative", "title": "Slope Variability (std/mean)"},
  "color": {"field": "s", "type": "nominal"}, "shape": {"field": "s", "type": "nominal"}}},
{"data": {"values": [{}]},
 "mark": {"type": "text", "text": "c)", "fontSize": 24, "fontWeight": "bold", "align": "left", "baseline": "alphabetic", "color": "#111"},
 "encoding": {"x": {"datum": -4.4, "type": "quantitative", "title": "Qgage [m³/s]"}, "y": {"datum": 0.958, "type": "quantitative", "title": "Slope Variability (std/mean)"}}},
{"data": {"values": [{}]},
 "mark": {"type": "text", "text": "Cleaned bins: range & IQR", "fontSize": 20, "align": "center", "baseline": "middle", "color": "#222"},
 "encoding": {"x": {"datum": 86.4, "type": "quantitative", "title": "Qgage [m³/s]"}, "y": {"datum": 0.9478, "type": "quantitative", "title": "Slope Variability (std/mean)"}}}
]
},
{
"width": 352, "height": 327,
"layer": [
{"data": {"name": "dfit"},
 "mark": {"type": "line", "strokeWidth": 2},
 "encoding": {
  "x": {"field": "q", "type": "quantitative", "title": "Qgage [m³/s]", "scale": {"domain": [2.34, 137.6], "nice": false, "zero": false}, "axis": {"values": [25, 50, 75, 100, 125]}},
  "y": {"field": "v", "type": "quantitative", "title": "Slope Variability (std/mean)", "scale": {"domain": [0.5976, 0.7458], "nice": false, "zero": false}, "axis": {"values": [0.6, 0.62, 0.64, 0.66, 0.68, 0.7, 0.72, 0.74], "format": ".2f"}},
  "color": {"field": "s", "type": "nominal", "scale": {"domain": ["Bin medians", "power_decay (R²=0.944)", "rational_decay (R²=0.943)", "exp_decay (R²=0.943)", "log_decay (R²=0.938)", "linear_decay (R²=0.763)"], "range": ["#1f77b4", "#1f77b4", "#ff7f0e", "#2ca02c", "#d62728", "#9467bd"]},
   "legend": {"orient": "top-right", "offset": 9, "title": null, "fillColor": "rgba(255,255,255,0.8)", "strokeColor": "#d5d5d5", "cornerRadius": 4, "padding": 9, "labelFontSize": 17, "labelLimit": 320, "symbolSize": 600, "symbolOffset": 14, "labelOffset": 27, "rowPadding": 7.5, "symbolStrokeWidth": 0, "symbolOpacity": 1, "zindex": 1}}
 }},
{"data": {"name": "dmed"},
 "mark": {"type": "point", "filled": true, "size": 600, "opacity": 1},
 "encoding": {"x": {"field": "q", "type": "quantitative", "title": "Qgage [m³/s]"}, "y": {"field": "v", "type": "quantitative", "title": "Slope Variability (std/mean)"},
  "color": {"field": "s", "type": "nominal"},
  "shape": {"field": "s", "type": "nominal", "scale": {"domain": ["Bin medians", "power_decay (R²=0.944)", "rational_decay (R²=0.943)", "exp_decay (R²=0.943)", "log_decay (R²=0.938)", "linear_decay (R²=0.763)"], "range": ["M-0.34,0a0.34,0.34 0 1,0 0.68,0a0.34,0.34 0 1,0 -0.68,0", "M-1.85,-0.08H1.85V0.08H-1.85Z", "M-1.85,-0.08H1.85V0.08H-1.85Z", "M-1.85,-0.08H1.85V0.08H-1.85Z", "M-1.85,-0.08H1.85V0.08H-1.85Z", "M-1.85,-0.08H1.85V0.08H-1.85Z"]},
   "legend": {"orient": "top-right", "offset": 9, "title": null, "fillColor": "rgba(255,255,255,0.8)", "strokeColor": "#d5d5d5", "cornerRadius": 4, "padding": 9, "labelFontSize": 17, "labelLimit": 320, "symbolSize": 600, "symbolOffset": 14, "labelOffset": 27, "rowPadding": 7.5, "symbolStrokeWidth": 0, "symbolOpacity": 1, "zindex": 1}}}},
{"data": {"values": [{}]},
 "mark": {"type": "text", "text": "d)", "fontSize": 24, "fontWeight": "bold", "align": "left", "baseline": "alphabetic", "color": "#111"},
 "encoding": {"x": {"datum": -1.1, "type": "quantitative", "title": "Qgage [m³/s]"}, "y": {"datum": 0.756, "type": "quantitative", "title": "Slope Variability (std/mean)"}}},
{"data": {"values": [{}]},
 "mark": {"type": "text", "text": "Decay model fits", "fontSize": 20, "align": "center", "baseline": "middle", "color": "#222"},
 "encoding": {"x": {"datum": 69.97, "type": "quantitative", "title": "Qgage [m³/s]"}, "y": {"datum": 0.7521, "type": "quantitative", "title": "Slope Variability (std/mean)"}}}
]
}
],
"resolve": {"scale": {"color": "independent", "shape": "independent"}, "legend": {"color": "independent", "shape": "independent"}},
"config": {
 "font": "DejaVu Sans",
 "view": {"stroke": "#444", "strokeWidth": 1},
 "axis": {"labelFontSize": 16, "titleFontSize": 18.5, "titleFontWeight": "normal", "labelColor": "#333", "titleColor": "#222", "tickColor": "#444", "tickSize": 5, "domain": false, "gridColor": "#e6e6e6", "labelPadding": 3, "titlePadding": 5, "labelFont": "DejaVu Sans", "titleFont": "DejaVu Sans"},
 "legend": {"labelFont": "DejaVu Sans", "labelColor": "#222"}
}
}
